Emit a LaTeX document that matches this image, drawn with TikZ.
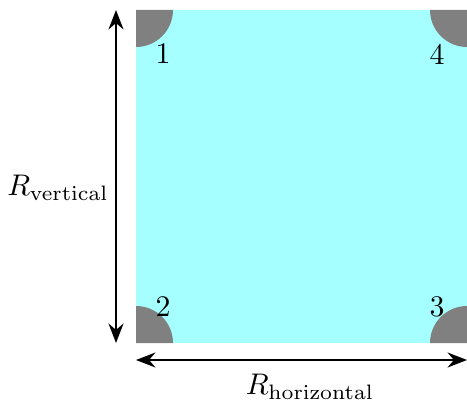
\documentclass[tikz,border=0pt]{standalone}
\usetikzlibrary{arrows.meta}
\definecolor{sheet}{RGB}{166,255,255}
\definecolor{padgray}{RGB}{128,128,128}

\begin{document}
\begin{tikzpicture}[x=0.335pt, y=-0.335pt,
  plate/.style={fill=sheet, draw=none},
  pad/.style={fill=padgray},
  dim/.style={{Stealth[length=6.5pt,width=5pt]}-{Stealth[length=6.5pt,width=5pt]}, line width=0.75pt},
  num/.style={inner sep=0pt}]
\useasboundingbox (0,0) rectangle (467,403);
% cyan sheet
\fill[plate] (136,10) rectangle (467,343);
% contacts at the corners
\fill[pad] (136,10) -- (173,10) arc[start angle=0, end angle=90, radius=37] -- cycle;
\fill[pad] (467,10) -- (430,10) arc[start angle=180, end angle=90, radius=37] -- cycle;
\fill[pad] (136,343) -- (173,343) arc[start angle=0, end angle=-90, radius=37] -- cycle;
\fill[pad] (467,343) -- (430,343) arc[start angle=180, end angle=270, radius=37] -- cycle;
\node[num] (n1) at (163,54) {1};
\node[num] (n4) at (437,54) {4};
\node[num] (n2) at (163,307) {2};
\node[num] (n3) at (437,307) {3};
% dimension arrows
\coordinate (vtop) at (116,10);
\coordinate (vbot) at (116,343);
\coordinate (hleft) at (136,360);
\coordinate (hright) at (467,360);
\draw[dim] (vtop) -- (vbot);
\draw[dim] (hleft) -- (hright);
\node (rv) at (58,188) {$R_{\mathrm{vertical}}$};
\node (rh) at (310,387) {$R_{\mathrm{horizontal}}$};
\end{tikzpicture}
\end{document}
